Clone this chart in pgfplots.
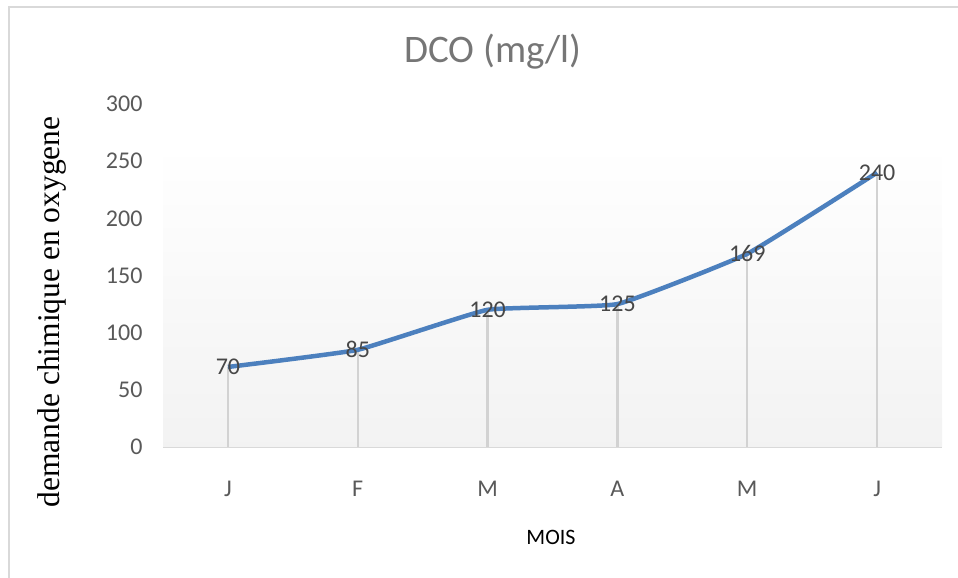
\documentclass[border=0pt]{standalone}
\usepackage{pgfplots}
\pgfplotsset{compat=1.18}
\usepackage{fontspec}
\setmainfont{Carlito}
\newfontfamily\timesfont{Liberation Serif}
\definecolor{lineblue}{RGB}{76,128,190}
\definecolor{ticktxt}{RGB}{89,89,89}
\definecolor{titletxt}{RGB}{118,118,118}
\definecolor{dropgray}{RGB}{210,210,210}
\definecolor{axgray}{RGB}{217,217,217}
\begin{document}
\begin{tikzpicture}[x=1pt,y=1pt]
\useasboundingbox (0,0) rectangle (958,578);
\draw[axgray, line width=2.5pt] (9,0) -- (9,571) -- (958,571);
\begin{axis}[
  at={(163pt,131pt)}, anchor=south west,
  scale only axis, width=779pt, height=343pt,
  xmin=-0.5, xmax=5.5, ymin=0, ymax=300,
  xtick={0,1,2,3,4,5},
  xticklabels={J,F,M,A,M,J},
  ytick={0,50,100,150,200,250,300},
  axis x line=bottom, axis y line=left,
  x axis line style={draw=axgray, line width=2pt, -},
  y axis line style={draw=none},
  major tick length=0pt,
  tick style={draw=none},
  /pgf/number format/assume math mode=true,
  tick label style={font=\fontsize{24}{28}\selectfont, text=ticktxt},
  yticklabel style={xshift=-17pt},
  xticklabel style={yshift=-31pt},
  clip=false,
]
\fill[top color=white, bottom color=black!5, draw=none] (axis cs:-0.5,0) rectangle (axis cs:5.5,264);
\addplot[ycomb, draw=dropgray, line width=2.2pt, mark=none] coordinates {(0,70) (1,85) (2,120) (3,125) (4,169) (5,240)};
\addplot[lineblue, line width=4.5pt, smooth, tension=0.2, mark=none,
  nodes near coords, every node near coord/.append style={anchor=center, font=\fontsize{24}{28}\selectfont, text={black!72}}]
  coordinates {(0,70) (1,85) (2,120) (3,125) (4,169) (5,240)};
\end{axis}
\node[font=\fontsize{39}{44}\selectfont, text=titletxt] at (493,526) {DCO (mg/l)};
\node[font=\fontsize{22}{26}\selectfont, text=black] at (551,41) {MOIS};
\node[font=\timesfont\fontsize{31.5}{36}\selectfont, text=black, rotate=90] at (52,266) {demande chimique en oxygene};
\end{tikzpicture}
\end{document}
